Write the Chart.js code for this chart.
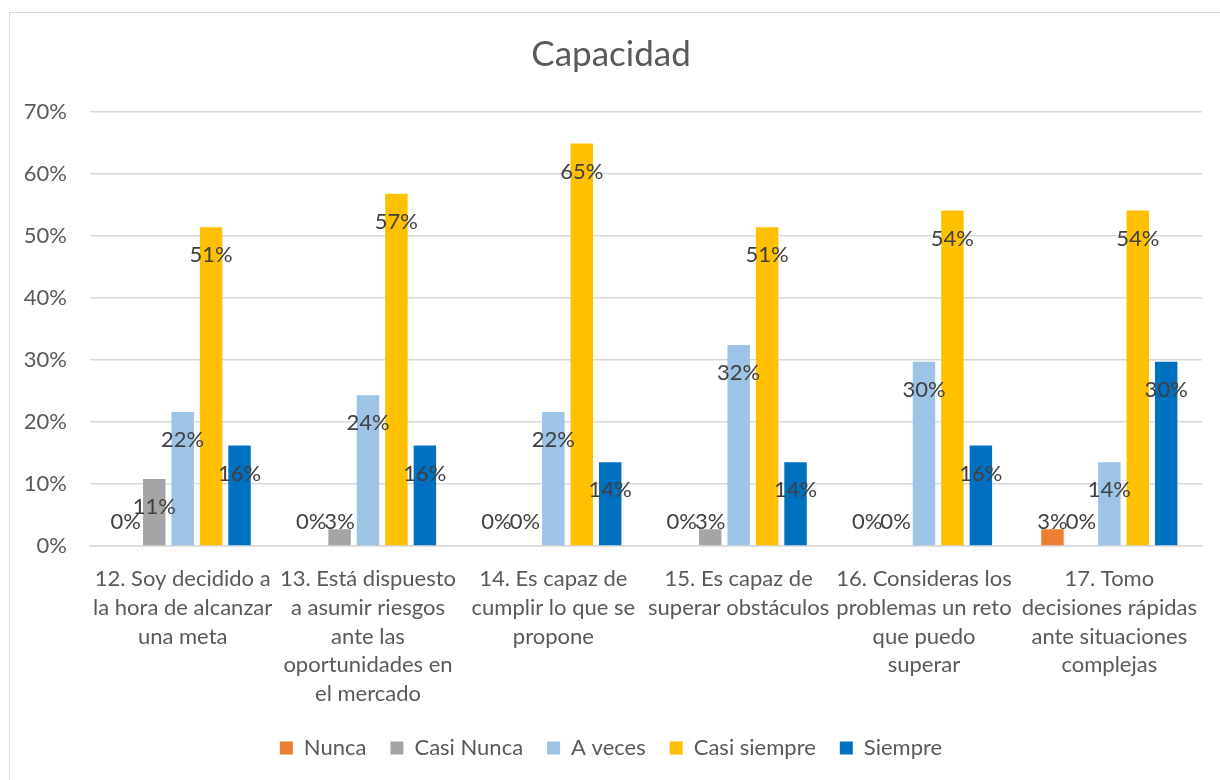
<!DOCTYPE html>
<html>
<head>
<meta charset="utf-8">
<script src="https://cdn.jsdelivr.net/npm/chart.js@4.4.1/dist/chart.umd.min.js"></script>
<style>
  body { margin: 0; background: #fff; }
  #marco { position: absolute; left: 9px; top: 12px; width: 1230px; height: 790px; border: 1.5px solid #d9d9d9; }
  #grafico { position: absolute; left: 0; top: 0; }
</style>
</head>
<body>
<div id="marco"></div>
<canvas id="grafico" width="1220" height="780"></canvas>
<script>
// categorias (ya cortadas en lineas como en el original)
var categorias = [
    ['12. Soy decidido a', 'la hora de alcanzar', 'una meta'],
    ['13. Está dispuesto', 'a asumir riesgos', 'ante las', 'oportunidades en', 'el mercado'],
    ['14. Es capaz de', 'cumplir lo que se', 'propone'],
    ['15. Es capaz de', 'superar obstáculos'],
    ['16. Consideras los', 'problemas un reto', 'que puedo', 'superar'],
    ['17. Tomo', 'decisiones rápidas', 'ante situaciones', 'complejas']
];

// valores en porcentaje
var nunca       = [0, 0, 0, 0, 0, 2.7];
var casiNunca   = [10.8, 2.7, 0, 2.7, 0, 0];
var aVeces      = [21.6, 24.3, 21.6, 32.4, 29.7, 13.5];
var casiSiempre = [51.4, 56.8, 64.9, 51.4, 54.1, 54.1];
var siempre     = [16.2, 16.2, 13.5, 13.5, 16.2, 29.7];

var ticksY = [0, 10, 20, 30, 40, 50, 60, 70];

var fuente = 'Lato, "Open Sans", sans-serif';

// etiquetas de datos estilo Excel (dentro del extremo)
var etiquetas = {
    id: 'etiquetas',
    afterDatasetsDraw: function (chart) {
        var ctx = chart.ctx;
        var base = chart.scales.y.getPixelForValue(0);
        ctx.save();
        ctx.font = '22px ' + fuente;
        ctx.fillStyle = '#404040';
        ctx.textAlign = 'center';
        ctx.textBaseline = 'middle';
        chart.data.datasets.forEach(function (ds, i) {
            var meta = chart.getDatasetMeta(i);
            meta.data.forEach(function (barra, j) {
                var y = Math.min(barra.y + 28, base - 24);
                ctx.fillText(Math.round(ds.data[j]) + '%', barra.x, y);
            });
        });
        ctx.restore();
    }
};

new Chart(document.getElementById('grafico'), {
    type: 'bar',
    data: {
        labels: categorias,
        datasets: [
            { label: 'Nunca', data: nunca, backgroundColor: '#ed7d31' },
            { label: 'Casi Nunca', data: casiNunca, backgroundColor: '#a5a5a5' },
            { label: 'A veces', data: aVeces, backgroundColor: '#9dc3e6' },
            { label: 'Casi siempre', data: casiSiempre, backgroundColor: '#ffc000' },
            { label: 'Siempre', data: siempre, backgroundColor: '#0070c0' }
        ]
    },
    options: {
        responsive: false,
        animation: false,
        datasets: { bar: { barPercentage: 0.79, categoryPercentage: 0.767 } },
        layout: { padding: { left: 20, right: 18, top: 14, bottom: 11 } },
        plugins: {
            title: {
                display: true,
                text: 'Capacidad',
                color: '#595959',
                font: { family: fuente, size: 35, weight: 'normal' },
                padding: { top: 20, bottom: 36 }
            },
            legend: {
                position: 'bottom',
                labels: {
                    color: '#595959',
                    font: { family: fuente, size: 22 },
                    boxWidth: 13,
                    boxHeight: 13,
                    padding: 24
                }
            },
            tooltip: { enabled: false }
        },
        scales: {
            x: {
                grid: { display: false },
                border: { color: '#d9d9d9', width: 1.5 },
                ticks: {
                    color: '#595959',
                    font: { family: fuente, size: 22, lineHeight: 1.3 },
                    padding: 11,
                    maxRotation: 0,
                    autoSkip: false
                },
                afterFit: function (s) { s.height = 167; }
            },
            y: {
                min: 0,
                max: 70,
                afterBuildTicks: function (s) { s.ticks = ticksY.map(function (v) { return { value: v }; }); },
                grid: { color: '#d9d9d9', lineWidth: 1.5, drawTicks: false },
                border: { display: false },
                ticks: {
                    color: '#595959',
                    font: { family: fuente, size: 22 },
                    padding: 23,
                    callback: function (v) { return v + '%'; }
                },
                afterFit: function (s) { s.width = 70; }
            }
        }
    },
    plugins: [etiquetas]
});
</script>
</body>
</html>
